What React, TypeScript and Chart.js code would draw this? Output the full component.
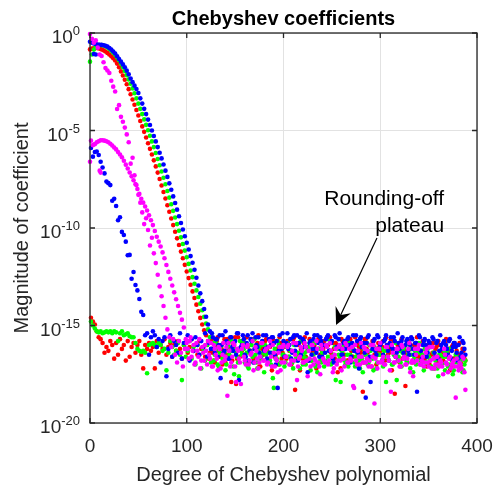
import { useEffect, useRef } from "react";
import { Chart, registerables } from "chart.js";

Chart.register(...registerables);

const FONT = '"Liberation Sans", Arial, Helvetica, sans-serif';

const xTicks = [0, 100, 200, 300, 400];
const yTickExponents = [-20, -15, -10, -5, 0];
const titleText = "Chebyshev coefficients";
const xLabel = "Degree of Chebyshev polynomial";
const yLabel = "Magnitude of coefficient";
const noteLines = ["Rounding-off", "plateau"];
// annotation anchors in data units (degree, log10 magnitude)
const noteAnchorX = 366;
const noteAnchorLog = [-8.82, -10.21];
const arrowFrom = [296.6, -10.51];
const arrowTo = [254.3, -14.97];

// log10 |coefficient|; *Even arrays hold degrees 0,2,4,..., *Odd arrays hold degrees 1,3,5,...
const redEven = [
  -0.84, -0.8, -0.78, -0.77, -0.78, -0.8, -0.84, -0.89, -0.95, -1.02,
  -1.1, -1.19, -1.29, -1.41, -1.57, -1.76, -1.97, -2.18, -2.4, -2.63,
  -2.88, -3.14, -3.41, -3.68, -3.95, -4.23, -4.51, -4.79, -5.07, -5.36,
  -5.65, -5.94, -6.23, -6.53, -6.84, -7.16, -7.49, -7.82, -8.15, -8.49,
  -8.83, -9.17, -9.51, -9.85, -10.19, -10.53, -10.87, -11.21, -11.55, -11.89,
  -12.23, -12.57, -12.91, -13.25, -13.59, -13.93, -14.27, -14.61, -14.95, -15.25,
  -15.5, -15.8, -16.4, -15.7, -16.8, -16.0, -15.6, -16.6, -16.2, -15.9,
  -16.9, -15.7, -16.3, -17.9, -16.0, -15.6, -16.7, -16.2, -15.8, -16.5,
  -16.1, -15.6, -16.9, -16.3, -15.8, -16.6, -16.0, -15.5, -17.1, -16.2,
  -16.4, -15.7, -16.8, -16.1, -17.3, -15.9, -16.5, -16.2, -15.6, -16.7,
  -16.0, -16.6, -15.8, -16.3, -17.0, -15.7, -18.3, -16.4, -15.9, -16.2,
  -16.7, -15.6, -16.1, -16.8, -15.9, -16.4, -16.0, -17.2, -15.7, -16.5,
  -16.3, -15.8, -16.9, -16.0, -15.6, -16.6, -16.2, -15.9, -17.4, -16.1,
  -15.7, -16.5, -16.0, -16.8, -15.8, -16.3, -16.6, -15.6, -16.9, -16.1,
  -16.4, -18.4, -15.7, -16.2, -16.7, -16.0, -15.8, -16.5, -17.0, -15.9,
  -16.3, -16.1, -16.8, -15.6, -16.5, -16.2, -17.3, -15.8, -16.6, -16.0,
  -16.9, -15.7, -16.3, -18.1, -16.5, -15.9, -16.2, -16.8, -16.0, -15.6,
  -16.6, -16.3, -15.8, -16.7, -17.1, -16.0, -15.9, -16.4, -17.2, -16.1,
  -15.8, -16.6, -16.2, -16.9, -15.7, -16.4, -17.3, -16.1, -16.7, -16.0,
  -16.5, -15.9, -17.0, -16.3, -16.8,
];
const redOdd = [
  -14.6, -14.8, -14.95, -15.3, -15.6, -15.7, -15.9, -16.4, -16.1, -16.3,
  -15.8, -16.0, -16.7, -15.9, -16.5, -15.7, -16.2, -16.0, -16.8, -15.8,
  -16.6, -16.1, -15.9, -16.4, -16.0, -15.8, -16.5, -17.2, -16.0, -16.2,
  -15.9, -16.3, -16.1, -17.2, -15.8, -16.4, -16.0, -16.2, -15.7, -16.5,
  -16.1, -15.9, -16.6, -16.0, -16.3, -15.8, -16.2, -16.7, -16.0, -15.9,
  -16.4, -16.1, -15.7, -16.3, -16.0, -16.5, -15.8, -16.2, -16.1, -16.6,
  -16.0, -16.7, -15.6, -16.4, -16.9, -15.8, -16.3, -16.1, -17.0, -15.7,
  -16.5, -16.2, -15.8, -16.8, -16.0, -18.0, -15.6, -16.6, -16.3, -15.9,
  -16.9, -16.1, -16.4, -15.7, -16.7, -16.2, -15.9, -17.1, -16.0, -16.5,
  -15.8, -16.3, -16.8, -16.0, -15.7, -16.6, -16.2, -17.0, -15.9, -16.4,
  -16.1, -16.7, -15.8, -16.3, -16.9, -15.6, -16.5, -16.0, -17.3, -16.2,
  -15.9, -16.6, -16.3, -15.7, -16.8, -16.1, -16.4, -17.0, -15.8, -16.5,
  -16.2, -16.0, -15.6, -16.9, -16.4, -15.9, -16.7, -16.2, -16.0, -17.2,
  -15.8, -16.5, -16.1, -16.8, -15.7, -16.6, -16.3, -16.0, -15.9, -16.7,
  -16.2, -16.9, -15.7, -16.4, -16.0, -17.1, -15.8, -16.6, -16.3, -16.1,
  -16.5, -15.8, -16.8, -16.0, -16.4, -15.7, -16.2, -18.5, -16.6, -16.1,
  -15.9, -16.7, -16.3, -16.5, -15.8, -16.2, -16.9, -16.0, -15.9, -16.6,
  -16.4, -16.8, -15.8, -16.3, -16.1, -17.0, -16.5, -15.9, -16.2, -16.9,
  -16.0, -16.4, -16.8, -15.9, -16.6, -16.2, -17.1, -16.0, -16.7, -16.3,
  -16.5, -16.9, -16.2, -16.7,
];
const greenEven = [
  -1.47, -1.1, -0.85, -0.72, -0.65, -0.62, -0.62, -0.64, -0.68, -0.74,
  -0.82, -0.91, -1.01, -1.12, -1.25, -1.4, -1.57, -1.75, -1.95, -2.16,
  -2.38, -2.6, -2.84, -3.09, -3.35, -3.62, -3.89, -4.16, -4.43, -4.71,
  -4.99, -5.27, -5.56, -5.85, -6.15, -6.46, -6.78, -7.1, -7.42, -7.76,
  -8.1, -8.44, -8.78, -9.12, -9.46, -9.8, -10.14, -10.48, -10.82, -11.16,
  -11.5, -11.84, -12.18, -12.52, -12.86, -13.2, -13.54, -13.88, -14.22, -14.56,
  -14.9, -15.2,
  -15.6, -16.2, -16.8, -15.9, -17.0, -16.4, -16.0, -16.7, -17.3, -16.1,
  -16.5, -15.8, -17.1, -16.2, -16.6, -17.6, -16.3, -15.9, -16.9, -16.4,
  -17.2, -16.0, -16.6, -15.7, -16.9, -16.3, -16.7, -16.0, -17.4, -16.5,
  -16.1, -16.8, -16.4, -18.2, -16.7, -15.8, -17.0, -16.2, -16.5, -16.9,
  -15.9, -16.6, -16.3, -17.2, -16.0, -16.8, -16.5, -15.8, -17.0, -16.4,
  -16.7, -16.1, -17.3, -16.5, -15.9, -17.0, -16.2, -16.8, -16.4, -17.1,
  -16.0, -16.6, -15.8, -16.9, -16.5, -17.8, -16.2, -16.7, -16.3, -16.0,
  -17.0, -16.5, -15.9, -16.7, -16.2, -17.1, -16.4, -16.8, -16.0, -17.4,
  -16.5, -15.9, -16.9, -16.3, -16.7, -16.1, -17.2, -16.5, -16.2, -16.8,
  -16.3, -17.9, -16.6, -16.0, -17.0, -16.5, -15.9, -16.8, -16.3, -17.1,
  -16.2, -16.7, -16.9, -16.0, -16.5, -17.4, -16.3, -16.8, -15.9, -17.0,
  -16.5, -16.2, -16.9, -16.6, -16.1, -17.2, -16.4, -16.7, -17.6, -16.5,
  -17.0, -16.3, -16.6, -17.1, -16.2, -16.8, -17.3, -16.5, -16.9, -17.1,
  -16.6, -17.3, -16.8,
];
const greenOdd = [
  -14.8, -15.0, -15.15, -15.3, -15.35, -15.3, -15.4, -15.35, -15.3, -15.35,
  -15.3, -15.4, -15.3, -15.35, -15.8, -15.4, -15.3, -15.5, -15.45, -15.4,
  -15.55, -15.6, -15.6, -15.9, -16.2, -16.3, -16.35, -16.3, -16.4, -17.45,
  -16.0, -15.95, -15.9, -16.0, -16.1, -15.9, -16.0, -16.3, -16.2, -17.3,
  -16.4, -15.8, -16.1, -16.5, -16.3, -15.9, -16.5, -17.8, -16.0, -16.6,
  -16.3, -15.8, -16.7, -16.1, -17.0, -16.0, -16.5, -17.2, -16.2, -16.8,
  -16.0, -16.6, -16.9, -15.9, -16.5, -16.2, -17.1, -16.1, -16.7, -16.4,
  -17.0, -16.0, -16.6, -16.3, -17.5, -16.4, -16.9, -15.8, -16.5, -16.2,
  -16.8, -17.1, -16.3, -16.0, -16.9, -16.5, -17.2, -16.1, -16.6, -16.4,
  -16.0, -16.8, -16.4, -17.0, -17.7, -16.2, -16.7, -16.0, -16.9, -16.5,
  -17.1, -16.1, -16.6, -16.3, -16.9, -16.0, -16.7, -16.4, -17.2, -16.2,
  -16.6, -17.0, -16.3, -15.9, -16.8, -16.5, -17.1, -17.4, -16.2, -16.9,
  -16.4, -16.0, -16.8, -16.3, -17.0, -16.6, -16.1, -16.9, -16.5, -17.9,
  -16.3, -16.8, -16.0, -17.1, -16.5, -16.2, -16.9, -16.6, -16.3, -17.2,
  -16.7, -16.2, -16.5, -17.0, -16.0, -16.6, -17.3, -16.3, -16.9, -16.5,
  -16.2, -17.1, -16.6, -16.3, -16.8, -16.0, -17.0, -16.5, -17.8, -16.6,
  -16.9, -16.4, -16.1, -16.8, -16.5, -17.2, -16.2, -16.7, -17.0, -16.4,
  -16.8, -16.5, -17.3, -16.9, -16.2, -16.7, -17.1, -16.4, -16.8, -17.2,
  -16.5, -16.9, -16.6, -17.3, -16.4, -17.0, -16.7, -17.5, -16.9, -16.6,
  -17.1, -16.8, -17.4, -17.0,
];
const blueEven = [
  -0.45, -0.5, -0.54, -0.57, -0.59, -0.6, -0.61, -0.63, -0.66, -0.7,
  -0.77, -0.85, -0.95, -1.05, -1.19, -1.33, -1.47, -1.61, -1.76, -1.93,
  -2.12, -2.33, -2.52, -2.7, -2.87, -3.08, -3.35, -3.62, -3.89, -4.16,
  -4.44, -4.72, -5.0, -5.28, -5.56, -5.85, -6.14, -6.43, -6.74, -7.06,
  -7.38, -7.71, -8.04, -8.38, -8.72, -9.06, -9.4, -9.74, -10.08, -10.42,
  -10.76, -11.1, -11.44, -11.78, -12.14, -12.55, -12.95, -13.35, -13.75, -14.15,
  -14.55, -14.95, -15.3,
  -15.4, -16.2, -15.7, -16.6, -15.5, -16.0, -16.4, -15.3, -15.9, -16.7,
  -15.6, -16.3, -15.8, -15.4, -17.8, -16.1, -15.5, -16.5, -15.9, -16.8,
  -15.7, -15.4, -16.2, -16.0, -15.6, -16.6, -15.8, -16.3, -15.5, -16.1,
  -16.4, -15.6, -15.9, -17.0, -18.2, -15.5, -16.2, -15.8, -16.6, -15.4,
  -16.0, -16.7, -15.6, -16.3, -15.5, -15.9, -16.5, -15.7, -16.1, -15.4,
  -16.8, -15.8, -16.2, -15.5, -16.4, -15.9, -15.6, -16.6, -16.0, -15.7,
  -15.5, -16.3, -15.8, -16.9, -15.6, -16.1, -15.4, -16.5, -15.9, -16.2,
  -15.7, -16.0, -16.6, -15.5, -16.3, -15.8, -17.2, -15.6, -16.1, -16.4,
  -15.9, -15.5, -17.9, -16.2, -15.7, -16.5, -15.6, -16.0, -16.8, -15.8,
  -15.5, -16.3, -15.9, -16.1, -15.6, -16.6, -15.4, -16.2, -15.8, -16.4,
  -16.0, -15.7, -16.5, -15.6, -16.2, -15.9, -18.4, -15.5, -16.3, -16.0,
  -15.7, -16.6, -15.8, -16.1, -15.6, -16.4, -15.9, -16.7, -15.5, -16.2,
  -15.8, -16.0, -16.5, -15.7, -16.3, -15.9, -16.1, -16.8, -15.6, -16.4,
  -15.9, -16.5,
];
const blueOdd = [
  -5.9, -6.34, -6.1, -6.08, -6.26, -6.6, -6.9, -7.2, -7.62, -7.7,
  -7.8, -8.6, -8.5, -8.87, -9.6, -9.45, -10.2, -10.36, -10.7, -11.4,
  -11.38, -12.6, -12.26, -12.92, -13.2, -13.64, -14.3, -14.46,
  -15.5, -15.4, -16.5, -15.6, -15.3, -15.5, -16.1, -15.7, -16.9, -15.8,
  -15.6, -17.6, -16.2, -15.5, -16.6, -15.8, -16.0, -16.4, -15.4, -16.7,
  -15.9, -16.2, -15.5, -16.8, -15.7, -16.3, -15.6, -16.0, -16.5, -15.8,
  -16.1, -15.4, -16.6, -15.9, -16.2, -15.6, -16.4, -15.7, -16.0, -17.7,
  -15.5, -16.3, -15.8, -16.7, -15.6, -16.1, -15.9, -16.5, -15.4, -16.2,
  -16.0, -15.7, -16.6, -15.5, -16.3, -15.8, -16.9, -15.6, -16.1, -16.4,
  -15.9, -15.5, -16.2, -16.7, -15.7, -16.0, -15.6, -16.5, -15.8, -16.3,
  -16.1, -15.4, -16.6, -15.9, -16.2, -15.7, -16.4, -15.5, -16.0, -16.8,
  -15.6, -16.3, -15.8, -16.1, -17.4, -15.9, -16.5, -15.7, -16.2, -15.5,
  -16.6, -15.8, -16.0, -16.4, -15.6, -16.3, -15.9, -16.7, -15.5, -16.1,
  -15.7, -16.2, -16.5, -15.8, -16.0, -15.6, -16.9, -15.9, -16.3, -15.5,
  -16.4, -15.7, -16.1, -15.9, -18.7, -15.6, -16.6, -16.0, -15.8, -16.3,
  -15.5, -16.2, -15.9, -16.5, -15.7, -16.0, -16.8, -15.6, -16.2, -15.8,
  -16.4, -15.9, -16.1, -15.6, -16.6, -15.8, -16.3, -16.0, -15.7, -16.5,
  -15.9, -16.2, -15.6, -16.7, -15.8, -16.0, -16.4, -15.9, -16.1, -15.7,
  -16.6, -15.8, -16.3, -16.0, -15.9, -16.5, -16.2, -15.8, -16.7, -16.1,
  -15.9, -16.4, -16.0, -16.6, -15.8, -16.2,
];
const blueExtraDeg = [4, 6];
const blueExtraLog = [-1.08, -1.1];
const magentaEven = [
  -0.05, -0.3, -0.5, -0.38, -0.75, -1.1, -1.18, -1.5, -1.8, -1.92,
  -2.05, -2.45, -2.75, -3.0, -3.9, -3.7, -4.3, -4.55, -4.85, -5.2,
  -5.6, -6.7, -6.4, -7.3, -7.8, -8.3, -8.7, -9.2, -9.8, -9.5,
  -10.1, -10.9, -10.5, -11.3, -11.8, -12.4, -13.0, -13.5, -14.0, -14.6,
  -15.2,
  -15.6, -16.1, -15.7, -16.5, -16.9, -15.8, -16.4, -17.1, -16.2, -15.9,
  -16.7, -15.6, -16.3, -17.0, -15.9, -16.6, -17.2, -16.1, -16.8, -16.3,
  -15.8, -16.7, -17.1, -16.0, -16.5, -17.3, -16.2, -16.9, -15.9, -16.6,
  -18.6, -16.3, -16.9, -15.9, -17.1, -16.2, -16.7, -18.0, -16.0, -16.8,
  -16.1, -17.0, -16.5, -15.8, -16.9, -16.3, -17.2, -16.6, -15.9, -16.8,
  -16.2, -16.9, -15.8, -17.1, -16.4, -16.7, -17.4, -16.1, -16.9, -16.0,
  -16.6, -16.1, -17.0, -16.8, -15.9, -16.5, -17.8, -16.7, -16.1, -16.9,
  -15.9, -16.8, -16.3, -17.1, -16.0, -16.7, -15.8, -16.9, -17.5, -16.2,
  -16.8, -16.0, -17.0, -15.9, -16.6, -17.2, -16.2, -16.8, -16.0, -17.3,
  -16.7, -15.9, -16.9, -16.2, -16.8, -18.1, -16.0, -17.0, -16.6, -15.9,
  -16.9, -16.2, -16.7, -17.1, -16.0, -16.6, -19.0, -16.2, -16.9, -15.9,
  -16.8, -17.0, -16.1, -16.6, -17.3, -16.0, -16.9, -16.6, -16.2, -17.1,
  -16.0, -16.7, -17.0, -16.7, -15.9, -16.9, -17.6, -16.2, -16.8, -16.0,
  -17.0, -16.6, -16.9, -16.2, -17.1, -16.8, -16.1, -17.2, -16.6, -17.0,
  -16.8, -17.1, -16.2, -16.9, -17.4, -16.6, -17.0, -16.8, -18.7, -17.1,
  -16.9, -17.2, -16.7, -18.3,
];
const magentaOdd = [
  -5.52, -5.75, -5.7, -5.6, -5.55, -5.5, -5.5, -5.52, -5.55, -5.6,
  -5.68, -5.77, -5.87, -5.97, -6.1, -6.23, -6.37, -6.55, -6.75, -6.95,
  -7.15, -7.35, -7.55, -7.75, -8.0, -8.25, -8.5, -8.7, -8.9, -9.1,
  -9.35, -9.6, -9.85, -10.15, -10.45, -10.7, -10.95, -11.25, -11.55, -11.9,
  -12.25, -12.6, -12.95, -13.3, -13.65, -14.0, -14.35, -14.7, -15.1,
  -15.7, -16.2, -15.8, -16.6, -16.0, -16.9, -16.3, -15.7, -16.8, -16.4,
  -16.0, -17.0, -16.5, -15.9, -17.1, -16.2, -16.7, -16.1, -17.2, -16.5,
  -16.8, -16.1, -15.9, -17.1, -16.6, -16.0, -17.9, -16.3, -16.9, -16.2,
  -16.6, -17.0, -16.0, -16.8, -16.4, -17.3, -16.1, -16.7, -16.9, -15.9,
  -16.8, -16.3, -17.0, -16.1, -16.6, -16.0, -17.1, -16.8, -16.4, -17.3,
  -16.1, -16.9, -16.6, -16.0, -17.0, -16.3, -16.8, -15.9, -17.1, -16.6,
  -16.3, -16.9, -16.1, -17.6, -16.7, -16.0, -17.0, -16.8, -16.2, -17.1,
  -16.0, -16.7, -16.9, -16.1, -16.8, -16.3, -17.4, -16.5, -17.0, -16.1,
  -16.8, -16.2, -17.1, -16.0, -16.9, -16.7, -16.1, -18.2, -16.8, -16.3,
  -17.0, -16.6, -16.1, -16.9, -16.3, -16.8, -17.1, -16.0, -16.7, -17.2,
  -16.2, -16.9, -16.6, -17.0, -16.1, -16.8, -18.4, -16.4, -16.9, -16.2,
  -16.8, -17.1, -16.1, -16.6, -17.0, -16.2, -17.4, -16.8, -16.9, -16.5,
  -16.2, -17.0, -16.8, -17.1, -16.4, -16.9, -16.1, -17.2, -16.7, -17.0,
  -16.6, -17.1, -16.9, -17.5, -16.5, -17.0, -16.7, -17.2, -16.9, -17.1,
  -16.7, -17.3, -17.0, -16.6, -17.4,
];
const magentaExtraDeg = [0, 10, 11];
const magentaExtraLog = [-6.6, -7.06, -7.16];

type Pt = { x: number; y: number };

function buildPoints(even: number[], odd: number[], exDeg: number[], exLog: number[]): Pt[] {
  const out: Pt[] = [];
  even.forEach((e, i) => out.push({ x: 2 * i, y: Math.pow(10, e) }));
  odd.forEach((e, i) => out.push({ x: 2 * i + 1, y: Math.pow(10, e) }));
  exDeg.forEach((d, i) => out.push({ x: d, y: Math.pow(10, exLog[i]) }));
  return out;
}

const seriesList = [
  { color: "#ff00ff", pts: buildPoints(magentaEven, magentaOdd, magentaExtraDeg, magentaExtraLog) },
  { color: "#0000ff", pts: buildPoints(blueEven, blueOdd, blueExtraDeg, blueExtraLog) },
  { color: "#00ff00", pts: buildPoints(greenEven, greenOdd, [], []) },
  { color: "#ff0000", pts: buildPoints(redEven, redOdd, [], []) },
];

const decorPlugin = {
  id: "decor",
  afterDatasetsDraw(chart: any) {
    const { ctx, chartArea: a, scales } = chart;
    const xs = scales.x;
    const ys = scales.y;
    ctx.save();
    ctx.strokeStyle = "#262626";
    ctx.lineWidth = 1.3;
    ctx.strokeRect(a.left, a.top, a.right - a.left, a.bottom - a.top);
    ctx.beginPath();
    xTicks.forEach((v) => {
      const p = xs.getPixelForValue(v);
      ctx.moveTo(p, a.bottom);
      ctx.lineTo(p, a.bottom - 5);
      ctx.moveTo(p, a.top);
      ctx.lineTo(p, a.top + 5);
    });
    yTickExponents.forEach((e) => {
      const p = ys.getPixelForValue(Math.pow(10, e));
      ctx.moveTo(a.left, p);
      ctx.lineTo(a.left + 5, p);
      ctx.moveTo(a.right, p);
      ctx.lineTo(a.right - 5, p);
    });
    ctx.stroke();

    ctx.fillStyle = "#262626";
    ctx.font = `19px ${FONT}`;
    ctx.textAlign = "center";
    ctx.textBaseline = "alphabetic";
    xTicks.forEach((v) => {
      ctx.fillText(String(v), xs.getPixelForValue(v), a.bottom + 29);
    });

    ctx.textAlign = "left";
    yTickExponents.forEach((e) => {
      const p = ys.getPixelForValue(Math.pow(10, e));
      const sup = String(e);
      ctx.font = `13px ${FONT}`;
      const wSup = ctx.measureText(sup).width;
      ctx.font = `19px ${FONT}`;
      const wBase = ctx.measureText("10").width;
      const right = a.left - 10;
      ctx.fillText("10", right - wSup - wBase, p + 10);
      ctx.font = `13px ${FONT}`;
      ctx.fillText(sup, right - wSup, p + 2);
    });

    ctx.font = `20px ${FONT}`;
    ctx.textAlign = "center";
    ctx.fillText(xLabel, (a.left + a.right) / 2, 481);
    ctx.save();
    ctx.translate(28, (a.top + a.bottom) / 2);
    ctx.rotate(-Math.PI / 2);
    ctx.fillText(yLabel, 0, 0);
    ctx.restore();

    ctx.fillStyle = "#000";
    ctx.font = `bold 20px ${FONT}`;
    ctx.fillText(titleText, (a.left + a.right) / 2, 25);

    ctx.font = `21px ${FONT}`;
    ctx.textAlign = "right";
    noteLines.forEach((t, i) => {
      ctx.fillText(t, xs.getPixelForValue(noteAnchorX), ys.getPixelForValue(Math.pow(10, noteAnchorLog[i])));
    });
    const sx = xs.getPixelForValue(arrowFrom[0]);
    const sy = ys.getPixelForValue(Math.pow(10, arrowFrom[1]));
    const tx = xs.getPixelForValue(arrowTo[0]);
    const ty = ys.getPixelForValue(Math.pow(10, arrowTo[1]));
    const dx = tx - sx;
    const dy = ty - sy;
    const len = Math.hypot(dx, dy);
    const ux = dx / len;
    const uy = dy / len;
    const nx = -uy;
    const ny = ux;
    const L = 17;
    const W = 8.5;
    const notch = 11;
    ctx.strokeStyle = "#000";
    ctx.lineWidth = 1.2;
    ctx.beginPath();
    ctx.moveTo(sx, sy);
    ctx.lineTo(tx - ux * notch, ty - uy * notch);
    ctx.stroke();
    ctx.fillStyle = "#000";
    ctx.beginPath();
    ctx.moveTo(tx, ty);
    ctx.lineTo(tx - ux * L + nx * W, ty - uy * L + ny * W);
    ctx.lineTo(tx - ux * notch, ty - uy * notch);
    ctx.lineTo(tx - ux * L - nx * W, ty - uy * L - ny * W);
    ctx.closePath();
    ctx.fill();
    ctx.restore();
  },
};

export default function App() {
  const ref = useRef<HTMLCanvasElement | null>(null);
  useEffect(() => {
    document.body.style.margin = "0";
    const canvas = ref.current;
    if (!canvas) return;
    const chart = new Chart(canvas, {
      type: "scatter",
      data: {
        datasets: seriesList.map((s) => ({
          data: s.pts,
          backgroundColor: s.color,
          borderWidth: 0,
          pointRadius: 2.3,
          pointHoverRadius: 2.3,
          showLine: false,
          clip: false as any,
        })),
      },
      options: {
        animation: false,
        responsive: false,
        events: [],
        layout: { padding: { top: 33, right: 16, left: 0, bottom: 0 } },
        plugins: { legend: { display: false }, tooltip: { enabled: false }, title: { display: false } },
        scales: {
          x: {
            type: "linear",
            min: 0,
            max: 400,
            ticks: { display: false, stepSize: 100 },
            grid: { color: "#e2e2e2", lineWidth: 1, drawTicks: false },
            border: { display: false },
            afterFit: (s: any) => {
              s.height = 62;
            },
          },
          y: {
            type: "logarithmic",
            min: 1e-20,
            max: 1,
            ticks: { display: false },
            grid: { color: "#e2e2e2", lineWidth: 1, drawTicks: false },
            border: { display: false },
            afterBuildTicks: (s: any) => {
              s.ticks = yTickExponents.map((e) => ({ value: Math.pow(10, e) }));
            },
            afterFit: (s: any) => {
              s.width = 90;
            },
          },
        },
      },
      plugins: [decorPlugin],
    });
    return () => chart.destroy();
  }, []);
  return (
    <div style={{ width: 493, height: 485 }}>
      <canvas ref={ref} width={493} height={485} style={{ display: "block" }} />
    </div>
  );
}
